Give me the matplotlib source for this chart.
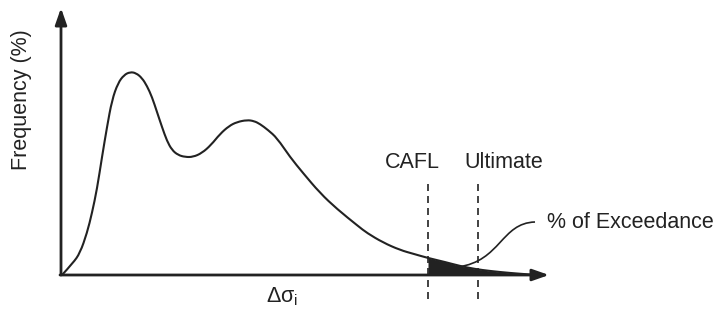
import matplotlib
matplotlib.use("Agg")
import matplotlib.pyplot as plt
from matplotlib.path import Path
from matplotlib.patches import PathPatch

plt.rcParams['font.family'] = ['Liberation Sans', 'DejaVu Sans']
plt.rcParams['mathtext.fontset'] = 'custom'
plt.rcParams['mathtext.rm'] = 'Liberation Sans'
plt.rcParams['mathtext.it'] = 'Liberation Sans'

# Stress range (schematic units) and frequency
delta_sigma = [1, 12, 19, 26, 31, 36, 41, 46, 51, 57, 63, 69, 75, 81, 86, 91, 96,
               101, 106, 111, 117, 124, 132, 141, 150, 159, 168, 176, 186, 193,
               199, 207, 216, 229, 242, 259, 276, 297, 306, 322, 339,
               353, 367, 384, 399, 414, 429, 449, 469]
frequency = [0, 12, 22, 42, 62, 86, 118, 148, 175, 192, 200, 203, 202, 197, 189,
             178, 163, 148, 134, 125, 120, 118, 118, 122, 130, 141, 149, 153,
             155, 154, 151, 145, 137, 118, 102, 82, 66, 49, 42, 32.5, 25,
             21, 17, 13, 9, 6, 4, 2, 0.5]

cafl = 367
ultimate = 417
labels = ["CAFL", "Ultimate"]

fig = plt.figure(figsize=(7.19, 3.23), dpi=100)
ax = fig.add_axes([0, 0, 1, 1])
ax.set_xlim(-61, 658)
ax.set_ylim(-48, 275)
ax.axis('off')

ink = '#222222'

# axes with arrows
ax.annotate('', xy=(0, 267), xytext=(0, 0),
            arrowprops=dict(arrowstyle='-|>,head_length=1.0,head_width=0.35',
                            lw=2, color=ink, shrinkA=0, shrinkB=0), annotation_clip=False)
ax.annotate('', xy=(488, 0), xytext=(-1, 0),
            arrowprops=dict(arrowstyle='-|>,head_length=1.0,head_width=0.35',
                            lw=2, color=ink, shrinkA=0, shrinkB=0), annotation_clip=False)

# distribution curve, drawn as a smooth quadratic B-spline through the read points
pts = list(zip(delta_sigma, frequency))
verts = [pts[0]]
codes = [Path.MOVETO]
for i in range(1, len(pts) - 1):
    mid = ((pts[i][0] + pts[i + 1][0]) / 2, (pts[i][1] + pts[i + 1][1]) / 2)
    verts += [pts[i], mid]
    codes += [Path.CURVE3, Path.CURVE3]
verts.append(pts[-1])
codes.append(Path.LINETO)
ax.add_patch(PathPatch(Path(verts, codes), fc='none', ec=ink, lw=1.5,
                       capstyle='round', joinstyle='round'))

# shaded exceedance area beyond CAFL
xs = [x for x in delta_sigma if x >= cafl]
ys = [y for x, y in zip(delta_sigma, frequency) if x >= cafl]
ax.fill_between(xs, ys, 0, color=ink, lw=0)

# dashed limits
for x in [cafl, ultimate]:
    ax.plot([x, x], [-24, 94], color=ink, lw=1.2, dashes=(4.2, 3.0))

fs = 15.5
ax.text(351, 112, labels[0], ha='center', va='center', fontsize=fs, color=ink)
ax.text(443, 112, labels[1], ha='center', va='center', fontsize=fs, color=ink)
ax.text(486, 53, "% of Exceedance", ha='left', va='center', fontsize=fs, color=ink)

# leader curve
lverts = [(397, 8), (440, 14), (440, 52), (474, 53)]
lpath = Path(lverts, [Path.MOVETO, Path.CURVE4, Path.CURVE4, Path.CURVE4])
ax.add_patch(PathPatch(lpath, fc='none', ec=ink, lw=1.2))

ax.text(-39, 175, "Frequency (%)", rotation=90, ha='center', va='center',
        fontsize=fs, color=ink)
ax.text(221, -22, r"$\Delta\sigma_\mathrm{i}$", ha='center', va='center',
        fontsize=fs, color=ink)

fig.savefig("out.png", dpi=100)
